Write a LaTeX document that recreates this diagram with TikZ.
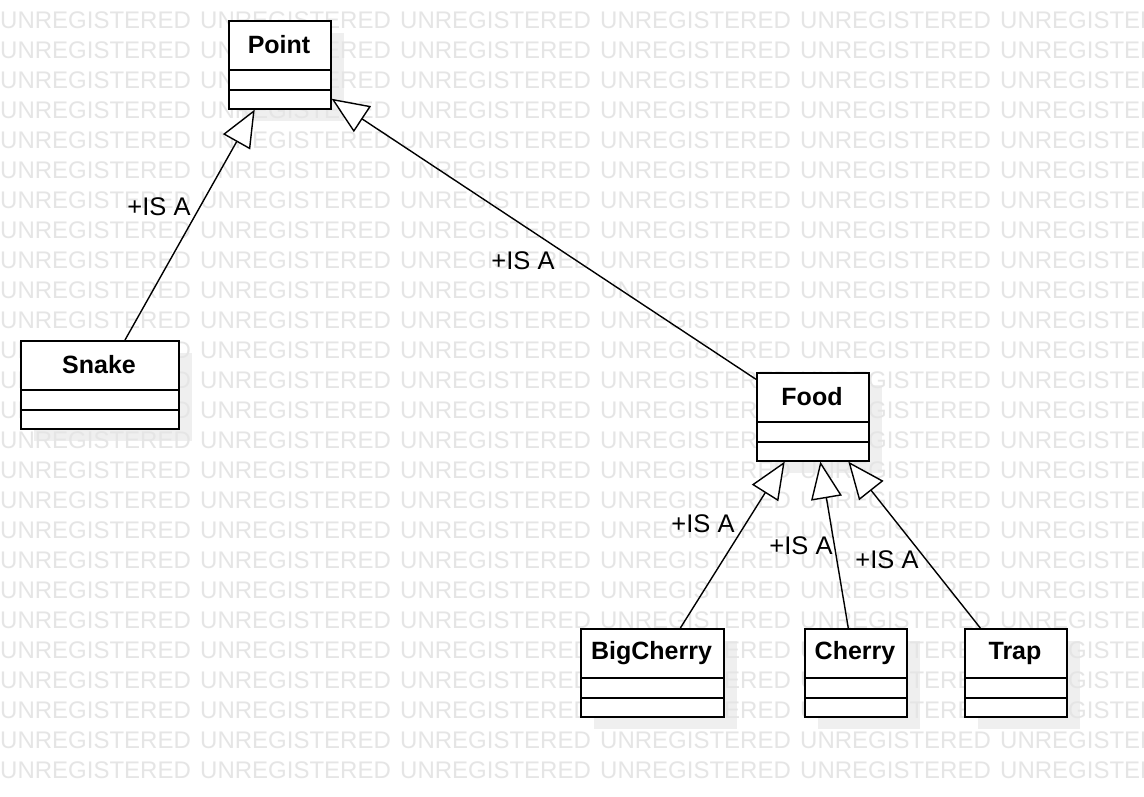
\documentclass[tikz,border=0pt]{standalone}
\usepackage{fontspec}
\setmainfont{Liberation Sans}
\usetikzlibrary{arrows.meta}
\definecolor{wmgray}{HTML}{E5E5E5}
\definecolor{shadowgray}{HTML}{EFEFEF}
\newcommand\umlshadow[3]{% left, top, width
  \fill[shadowgray] (#1+14,#2+13) rectangle (#1+#3+14,#2+101);}
\newcommand\umlclass[5]{% name, left, top, width, title
  \node[classbox, minimum width=#4pt, anchor=north west] (#1) at (#2,#3) {};
  \node[classtitle] (#1-title) at (#2+#4/2,#3+25) {#5};
  \draw[classline] (#2,#3+50) -- (#2+#4,#3+50);
  \draw[classline] (#2,#3+70) -- (#2+#4,#3+70);}
\tikzset{
  classbox/.style={draw, fill=white, line width=1.6pt, minimum height=88pt, inner sep=0pt},
  classtitle/.style={font=\bfseries\fontsize{25}{25}\selectfont, inner sep=0pt},
  classline/.style={line width=1.6pt},
  isa/.style={line width=1.4pt, -{Triangle[open, length=37pt, width=31pt, fill=white, line width=1.4pt]}},
  isalabel/.style={font=\fontsize{25.5}{25.5}\selectfont, inner sep=0pt},
  wm/.style={font=\fontsize{24}{24}\selectfont, text=wmgray, inner sep=0pt, anchor=west},
}
\begin{document}
\begin{tikzpicture}[x=1pt, y=-1pt]
\clip (0,0) rectangle (1144,796);
\fill[white] (0,0) rectangle (1144,796);
% shadows
\umlshadow{228}{20}{102}
\umlshadow{20}{340}{158}
\umlshadow{756}{372}{112}
\umlshadow{580}{628}{143}
\umlshadow{804}{628}{102}
\umlshadow{964}{628}{102}
% watermark
\foreach \r in {0,...,25}{
  \foreach \c in {0,...,5}{
    \node[wm] (wm-\r-\c) at (\c*200, 20+\r*30) {UNREGISTERED};
  }
}
% classes
\umlclass{point}{228}{20}{102}{Point}
\umlclass{snake}{20}{340}{158}{Snake}
\umlclass{food}{756}{372}{112}{Food}
\umlclass{bigcherry}{580}{628}{143}{BigCherry}
\umlclass{cherry}{804}{628}{102}{Cherry}
\umlclass{trap}{964}{628}{102}{Trap}
% generalizations
\draw[isa] (snake) -- (point);
\draw[isa] (food) -- (point);
\draw[isa] (bigcherry) -- (food);
\draw[isa] (cherry) -- (food);
\draw[isa] (trap) -- (food);
% labels
\node[isalabel] (l1) at (159,207) {+IS A};
\node[isalabel] (l2) at (523,261) {+IS A};
\node[isalabel] (l3) at (703,524) {+IS A};
\node[isalabel] (l4) at (801,546) {+IS A};
\node[isalabel] (l5) at (887,560) {+IS A};
\end{tikzpicture}
\end{document}
